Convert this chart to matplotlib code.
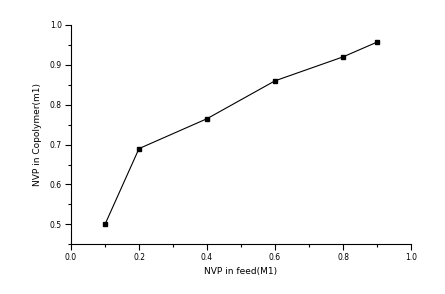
import matplotlib
matplotlib.use("Agg")
import matplotlib.pyplot as plt
from matplotlib.ticker import MultipleLocator

feed = [0.1, 0.2, 0.4, 0.6, 0.8, 0.9]
copolymer = [0.50, 0.69, 0.765, 0.86, 0.92, 0.957]

fig = plt.figure(figsize=(4.45, 2.94), dpi=100)
ax = fig.add_axes([71/445, 1-244.3/294, 340/445, (244.3-25)/294])
ax.plot(feed, copolymer, color='black', lw=0.8, marker='s', ms=3.2, mfc='black', mec='black')
ax.set_xlim(0.0, 1.0)
ax.set_ylim(0.45, 1.0)
ax.xaxis.set_major_locator(MultipleLocator(0.2))
ax.xaxis.set_minor_locator(MultipleLocator(0.1))
ax.yaxis.set_major_locator(MultipleLocator(0.1))
ax.yaxis.set_minor_locator(MultipleLocator(0.05))
ax.spines['top'].set_visible(False)
ax.spines['right'].set_visible(False)
for s in ['left', 'bottom']:
    ax.spines[s].set_linewidth(0.8)
ax.tick_params(which='major', direction='out', length=4, width=0.8, labelsize=5.5, pad=2.5)
ax.tick_params(which='minor', direction='out', length=2.5, width=0.8)
ax.set_xticklabels([f"{v:.1f}" for v in ax.get_xticks()])
ax.set_yticks([0.5, 0.6, 0.7, 0.8, 0.9, 1.0])
ax.set_yticklabels(["0.5", "0.6", "0.7", "0.8", "0.9", "1.0"])
ax.set_xlabel("NVP in feed(M1)", fontsize=6.5, labelpad=3.5)
ax.set_ylabel("NVP in Copolymer(m1)", fontsize=6.5, labelpad=6)
fig.savefig("out.png", dpi=100)
